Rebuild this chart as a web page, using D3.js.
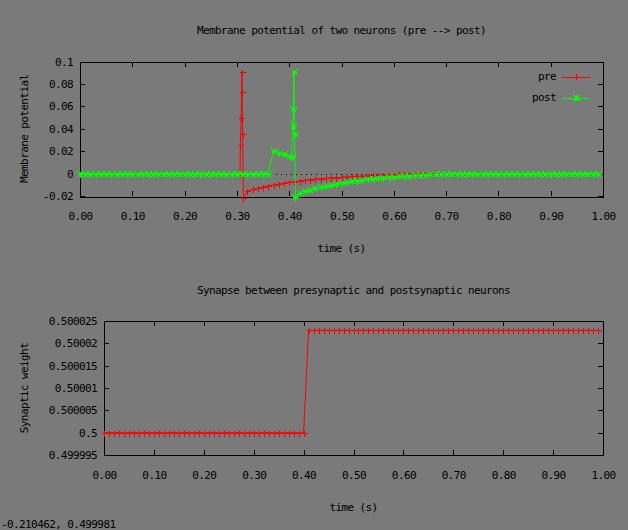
<!DOCTYPE html>
<html>
<head>
<meta charset="utf-8">
<script src="https://cdn.jsdelivr.net/npm/d3@7/dist/d3.min.js"></script>
<style>
  body { margin: 0; background: #7a7a7a; }
  svg text { font-family: "DejaVu Sans Mono", monospace; font-size: 11px; letter-spacing: -0.6px; fill: #000; }
</style>
</head>
<body>
<svg width="628" height="530"></svg>
<script>
// sample times shared by the plots (s)
var grid = [0.00,0.01,0.02,0.03,0.04,0.05,0.06,0.07,0.08,0.09,
  0.10,0.11,0.12,0.13,0.14,0.15,0.16,0.17,0.18,0.19,
  0.20,0.21,0.22,0.23,0.24,0.25,0.26,0.27,0.28,0.29,
  0.30,0.31,0.32,0.33,0.34,0.35,0.36,0.37,0.38,0.39,
  0.40,0.41,0.42,0.43,0.44,0.45,0.46,0.47,0.48,0.49,
  0.50,0.51,0.52,0.53,0.54,0.55,0.56,0.57,0.58,0.59,
  0.60,0.61,0.62,0.63,0.64,0.65,0.66,0.67,0.68,0.69,
  0.70,0.71,0.72,0.73,0.74,0.75,0.76,0.77,0.78,0.79,
  0.80,0.81,0.82,0.83,0.84,0.85,0.86,0.87,0.88,0.89,
  0.90,0.91,0.92,0.93,0.94,0.95,0.96,0.97,0.98,0.99];

// extra samples around the spikes
var preSpikeTime = [0.306,0.3066,0.308,0.309,0.3097,0.311,0.3123];
var postSpikeTime = [0.405,0.4066,0.408,0.409,0.4105,0.4115];

var preTime = grid.slice(0, 31).concat(preSpikeTime, grid.slice(32));
var postTime = grid.slice(0, 41).concat(postSpikeTime, grid.slice(42));

var preValue = [0,0,0,0,0,0,0,0,0,0, 0,0,0,0,0,0,0,0,0,0, 0,0,0,0,0,0,0,0,0,0, 0,
  0,0.0254,0.05,0.073,0.091,0.0355,-0.0217,
  -0.0155,-0.0142,-0.013,-0.012,-0.011,-0.0101,-0.0093,-0.0085,
  -0.0078,-0.0071,-0.0065,-0.006,-0.0055,-0.005,-0.0046,-0.0042,-0.0038,-0.0035,
  -0.0032,-0.0029,-0.0026,-0.0024,-0.0021,-0.0019,-0.0017,-0.0015,-0.0013,-0.0011,
  -0.0009,-0.0007,-0.0005,-0.0004,-0.0002,0,0,0,0,0,
  0,0,0,0,0,0,0,0,0,0, 0,0,0,0,0,0,0,0,0,0, 0,0,0,0,0,0,0,0,0,0];

var postValue = [0,0,0,0,0,0,0,0,0,0, 0,0,0,0,0,0,0,0,0,0, 0,0,0,0,0,0,0,0,0,0,
  0,0,0,0,0,0,0,0.0205,0.0188,0.0172, 0.0155,
  0.0145,0.0428,0.058,0.091,0.0355,-0.0205,
  -0.0172,-0.0158,-0.0145,-0.0133,-0.0122,-0.0111,-0.0101,-0.0092,
  -0.0084,-0.0076,-0.0069,-0.0063,-0.0057,-0.0051,-0.0046,-0.0041,-0.0036,-0.0032,
  -0.0028,-0.0024,-0.0021,-0.0018,-0.0015,-0.0012,-0.001,-0.0008,-0.0006,-0.0004,
  -0.0002,0,0,0,0,0,0,0,0,0, 0,0,0,0,0,0,0,0,0,0, 0,0,0,0,0,0,0,0,0,0];

var weight = [0.5,0.5,0.5,0.5,0.5,0.5,0.5,0.5,0.5,0.5,
  0.5,0.5,0.5,0.5,0.5,0.5,0.5,0.5,0.5,0.5,
  0.5,0.5,0.5,0.5,0.5,0.5,0.5,0.5,0.5,0.5,
  0.5,0.5,0.5,0.5,0.5,0.5,0.5,0.5,0.5,0.5,
  0.5,0.5000229,0.5000229,0.5000229,0.5000229,0.5000229,0.5000229,0.5000229,0.5000229,0.5000229,
  0.5000229,0.5000229,0.5000229,0.5000229,0.5000229,0.5000229,0.5000229,0.5000229,0.5000229,0.5000229,
  0.5000229,0.5000229,0.5000229,0.5000229,0.5000229,0.5000229,0.5000229,0.5000229,0.5000229,0.5000229,
  0.5000229,0.5000229,0.5000229,0.5000229,0.5000229,0.5000229,0.5000229,0.5000229,0.5000229,0.5000229,
  0.5000229,0.5000229,0.5000229,0.5000229,0.5000229,0.5000229,0.5000229,0.5000229,0.5000229,0.5000229,
  0.5000229,0.5000229,0.5000229,0.5000229,0.5000229,0.5000229,0.5000229,0.5000229,0.5000229,0.5000229];

// tick labels
var xTicks = [0,0.1,0.2,0.3,0.4,0.5,0.6,0.7,0.8,0.9,1];
var xTickLabels = ['0.00','0.10','0.20','0.30','0.40','0.50','0.60','0.70','0.80','0.90','1.00'];
var vTicks = [-0.02,0,0.02,0.04,0.06,0.08,0.1];
var vTickLabels = ['-0.02','0','0.02','0.04','0.06','0.08','0.1'];
var wTicks = [0.499995,0.5,0.500005,0.50001,0.500015,0.50002,0.500025];
var wTickLabels = ['0.499995','0.5','0.500005','0.50001','0.500015','0.50002','0.500025'];

var svg = d3.select('svg');

svg.append('rect')
  .attr('width', 628).attr('height', 530)
  .attr('fill', '#7a7a7a');

function snap(v) { return Math.round(v) + 0.5; }

function plusPath(x, y) {
  x = snap(x); y = snap(y);
  return 'M' + (x - 3) + ',' + y + 'h6M' + x + ',' + (y - 3) + 'v6';
}
function starPath(x, y) {
  x = snap(x); y = snap(y);
  return plusPath(x - 0.5, y - 0.5) + 'M' + (x - 3) + ',' + (y - 3) + 'l6,6M' + (x - 3) + ',' + (y + 3) + 'l6,-6';
}

// draws frame, mirrored inward ticks and labels of one panel
function panel(x, y, yTicks, yLabels, title, yTitle) {
  var g = svg.append('g').attr('shape-rendering', 'crispEdges');
  var x0 = x.range()[0], x1 = x.range()[1];
  var y0 = y.range()[0], y1 = y.range()[1];

  var bottom = d3.axisBottom(x).tickValues(xTicks)
    .tickFormat(function (d, i) { return xTickLabels[i]; })
    .tickSizeInner(-5).tickSizeOuter(0).tickPadding(16.5);
  var top = d3.axisTop(x).tickValues(xTicks).tickFormat('')
    .tickSizeInner(-5).tickSizeOuter(0);
  var left = d3.axisLeft(y).tickValues(yTicks)
    .tickFormat(function (d, i) { return yLabels[i]; })
    .tickSizeInner(-5).tickSizeOuter(0).tickPadding(7);
  var right = d3.axisRight(y).tickValues(yTicks).tickFormat('')
    .tickSizeInner(-5).tickSizeOuter(0);

  g.append('g').attr('transform', 'translate(0,' + y0 + ')').call(bottom);
  g.append('g').attr('transform', 'translate(0,' + y1 + ')').call(top);
  g.append('g').attr('transform', 'translate(' + x0 + ',0)').call(left);
  g.append('g').attr('transform', 'translate(' + x1 + ',0)').call(right);
  g.selectAll('.domain').remove();
  g.selectAll('.tick line').attr('stroke', '#000');
  g.selectAll('.tick text').attr('font-family', null).attr('font-size', null).attr('fill', '#000');

  g.append('rect')
    .attr('x', Math.round(x0) + 0.5).attr('y', Math.round(y1) + 0.5)
    .attr('width', Math.round(x1 - x0)).attr('height', Math.round(y0 - y1))
    .attr('fill', 'none').attr('stroke', '#000');

  var cx = (x0 + x1) / 2;
  svg.append('text').attr('x', cx).attr('y', y1 - 27.5)
    .attr('text-anchor', 'middle').text(title);
  svg.append('text').attr('x', cx).attr('y', y0 + 56)
    .attr('text-anchor', 'middle').text('time (s)');
  svg.append('text')
    .attr('transform', 'translate(28,' + ((y0 + y1) / 2) + ') rotate(-90)')
    .attr('text-anchor', 'middle').text(yTitle);
}

// ---- top panel: membrane potentials
var xTop = d3.scaleLinear().domain([0, 1]).range([80, 603]);
var yTop = d3.scaleLinear().domain([-0.02, 0.1]).range([196, 61.5]);

panel(xTop, yTop, vTicks, vTickLabels,
  'Membrane potential of two neurons (pre --> post)', 'Membrane potential');

// dotted zero axis
svg.append('line')
  .attr('x1', 81).attr('x2', 603)
  .attr('y1', snap(yTop(0))).attr('y2', snap(yTop(0)))
  .attr('stroke', '#000').attr('stroke-dasharray', '1,4')
  .attr('shape-rendering', 'crispEdges');

var series = [
  { name: 'pre', time: preTime, value: preValue, color: '#ff0000', mark: plusPath },
  { name: 'post', time: postTime, value: postValue, color: '#00ff00', mark: starPath }
];

series.forEach(function (s) {
  var pts = s.time.map(function (t, i) { return [t, s.value[i]]; });
  var line = d3.line()
    .x(function (d) { return xTop(d[0]); })
    .y(function (d) { return yTop(d[1]); });
  svg.append('path')
    .attr('d', line(pts))
    .attr('fill', 'none').attr('stroke', s.color).attr('stroke-width', 1);
  svg.append('g').selectAll('path')
    .data(pts)
    .enter().append('path')
    .attr('d', function (d) { return s.mark(xTop(d[0]), yTop(d[1])); })
    .attr('fill', 'none').attr('stroke', s.color)
    .attr('shape-rendering', 'crispEdges');
});

// legend
var legend = svg.selectAll('.legend')
  .data(series)
  .enter().append('g')
  .attr('class', 'legend')
  .attr('transform', function (d, i) { return 'translate(0,' + (76.5 + i * 21) + ')'; });

legend.append('text')
  .attr('x', 556).attr('dy', '0.36em')
  .attr('text-anchor', 'end')
  .text(function (d) { return d.name; });
legend.append('line')
  .attr('x1', 562).attr('x2', 590).attr('y1', 0.5).attr('y2', 0.5)
  .attr('stroke', function (d) { return d.color; })
  .attr('shape-rendering', 'crispEdges');
legend.append('path')
  .attr('d', function (d) { return d.mark(576, 0); })
  .attr('fill', 'none')
  .attr('stroke', function (d) { return d.color; })
  .attr('shape-rendering', 'crispEdges');

// ---- bottom panel: synaptic weight
var xBot = d3.scaleLinear().domain([0, 1]).range([104, 603]);
var yBot = d3.scaleLinear().domain([0.499995, 0.500025]).range([455, 321]);

panel(xBot, yBot, wTicks, wTickLabels,
  'Synapse between presynaptic and postsynaptic neurons', 'Synaptic weight');

var wPts = grid.map(function (t, i) { return [t, weight[i]]; });
svg.append('path')
  .attr('d', d3.line()
    .x(function (d) { return xBot(d[0]); })
    .y(function (d) { return yBot(d[1]); })(wPts))
  .attr('fill', 'none').attr('stroke', '#ff0000');
svg.append('g').selectAll('path')
  .data(wPts)
  .enter().append('path')
  .attr('d', function (d) { return plusPath(xBot(d[0]), yBot(d[1])); })
  .attr('fill', 'none').attr('stroke', '#ff0000')
  .attr('shape-rendering', 'crispEdges');

// mouse position readout in the corner
svg.append('text').attr('x', 1).attr('y', 528).text('-0.210462,  0.499981');
</script>
</body>
</html>
